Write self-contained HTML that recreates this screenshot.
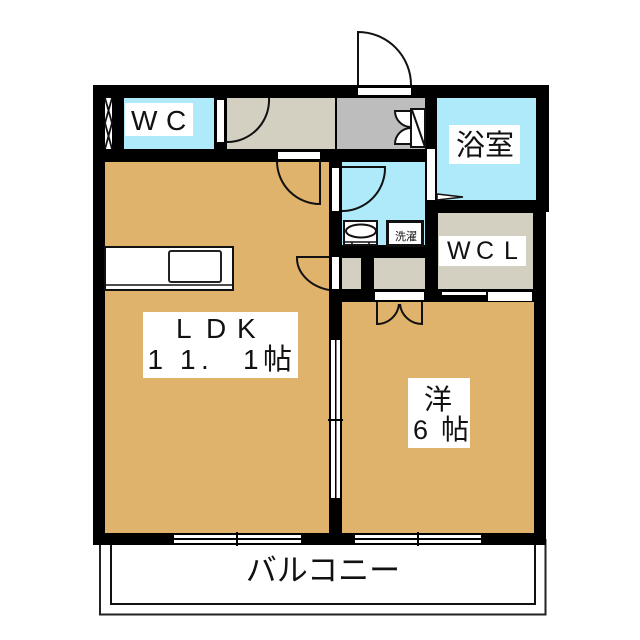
<!DOCTYPE html>
<html><head><meta charset="utf-8"><style>
html,body{margin:0;padding:0;background:#fff}
svg{display:block}
text{font-family:"Liberation Sans","Noto Sans CJK JP",sans-serif;fill:#111}
</style></head><body>
<svg width="640" height="640" viewBox="0 0 640 640" xmlns="http://www.w3.org/2000/svg">
<!-- balcony -->
<rect x="100" y="540" width="445.500" height="74.500" fill="#fff" stroke="#222" stroke-width="2"/>
<path d="M111 540V604H535V540" fill="none" stroke="#111" stroke-width="2"/>
<!-- walls -->
<rect x="93" y="85" width="453" height="460" fill="#000"/>
<rect x="530" y="85" width="19" height="127" fill="#000"/>
<!-- rooms -->
<rect x="105" y="162" width="224" height="371" fill="#e0b36c"/>
<rect x="342" y="302" width="192" height="231" fill="#e0b36c"/>
<rect x="124" y="98" width="90" height="51" fill="#aeeafa"/>
<rect x="227" y="98" width="108" height="51" fill="#d3d0c2"/>
<rect x="337" y="98" width="88" height="51" fill="#bdbdbd"/>
<rect x="437" y="98" width="99" height="102" fill="#aeeafa"/>
<rect x="342" y="162" width="83" height="83" fill="#aeeafa"/>
<rect x="438" y="213" width="95" height="76" fill="#d3d0c2"/>
<rect x="342" y="258" width="19" height="31" fill="#d3d0c2"/>
<rect x="374" y="258" width="51" height="31" fill="#d3d0c2"/>
<!-- wall openings -->
<rect x="105" y="98" width="7" height="51" fill="#fff"/>
<path d="M105 98L112 123L105 149M112 98L105 123L112 149" fill="none" stroke="#111" stroke-width="1.800"/>
<rect x="217" y="100" width="7" height="42" fill="#fff"/>
<rect x="278" y="152" width="42" height="7" fill="#fff"/>
<rect x="358" y="88" width="53" height="7" fill="#fff"/>
<rect x="427" y="149" width="8" height="51" fill="#fff"/>
<rect x="332" y="168" width="7" height="43" fill="#fff"/>
<rect x="332" y="257" width="7" height="32" fill="#fff"/>
<rect x="375" y="292" width="49" height="8" fill="#fff"/>
<rect x="442" y="292" width="44" height="3" fill="#fff"/>
<rect x="488" y="292" width="44" height="9" fill="#fff"/>
<!-- sliding partition -->
<rect x="331" y="340" width="4" height="158" fill="#fff"/>
<rect x="336.500" y="340" width="3.500" height="158" fill="#fff"/>
<path d="M328 420H343" stroke="#000" stroke-width="2"/>
<!-- bottom windows -->
<g fill="#fff">
<rect x="174" y="535" width="127" height="3"/><rect x="174" y="540" width="127" height="3"/>
<rect x="355" y="535" width="126" height="3"/><rect x="355" y="540" width="126" height="3"/>
</g>
<path d="M237 532V546M418 532V546" stroke="#000" stroke-width="2"/>
<!-- doors -->
<g fill="none" stroke="#111" stroke-width="2">
<path d="M358 85V32A53 53 0 0 1 411 85"/>
<path d="M227 142A42 42 0 0 0 269 98"/>
<path d="M277 162A43 43 0 0 0 320 204V160"/>
<path d="M342 211A43 43 0 0 0 385 167H342"/>
<path d="M329 290A42 33 0 0 1 297 257H329"/>
<path d="M377 302V324A22 22 0 0 0 399 304"/>
<path d="M422 302V324A22 22 0 0 1 400 304"/>
</g>
<!-- shoe/door near entrance -->
<path d="M411 111H395A16 16 0 0 0 411 127Z" fill="#fff" stroke="#111" stroke-width="2"/>
<path d="M411 144H395A16 16 0 0 1 411 128Z" fill="#fff" stroke="#111" stroke-width="2"/>
<path d="M411 109H425V147H411Z" fill="#fff" stroke="#111" stroke-width="2"/>
<path d="M412 110L425 147" stroke="#111" stroke-width="2"/>
<!-- bath door tip -->
<path d="M437 194L463 197L437 200Z" fill="#fff" stroke="#111" stroke-width="1.500"/>
<!-- kitchen -->
<rect x="105" y="247" width="128" height="43" fill="#fff" stroke="#111" stroke-width="2"/>
<path d="M105 285H233" stroke="#111" stroke-width="1.500"/>
<rect x="169" y="251" width="52" height="31" rx="2" fill="#fff" stroke="#222" stroke-width="2"/>
<!-- washbasin -->
<rect x="344" y="221" width="33" height="24" fill="#fff" stroke="#111" stroke-width="2"/>
<ellipse cx="361" cy="231" rx="15" ry="6.500" fill="#fff" stroke="#111" stroke-width="2"/>
<path d="M344 242H377M352 242V245M369 242V245" stroke="#111" stroke-width="1.500"/>
<!-- washer -->
<rect x="387.500" y="221.500" width="35" height="24" fill="#fff" stroke="#111" stroke-width="3"/>
<text x="406" y="240" font-size="11" text-anchor="middle">洗濯</text>
<!-- labels -->
<rect x="125" y="103" width="68" height="33" fill="#fff"/>
<text y="130" font-size="28"><tspan x="131">W</tspan><tspan x="166">C</tspan></text>
<rect x="449" y="125" width="71" height="39" fill="#fff"/>
<text x="485" y="155" font-size="29" text-anchor="middle">浴室</text>
<rect x="439" y="236" width="87" height="30" fill="#fff"/>
<text y="259" font-size="25"><tspan x="447">W</tspan><tspan x="476">C</tspan><tspan x="504">L</tspan></text>
<rect x="143" y="312" width="155" height="66" fill="#fff"/>
<text y="338" font-size="28"><tspan x="176">L</tspan><tspan x="206">D</tspan><tspan x="237">K</tspan></text>
<text y="369" font-size="28"><tspan x="147.500">1</tspan><tspan x="180">1</tspan><tspan x="201">.</tspan><tspan x="243">1</tspan></text>
<text x="263" y="369" font-size="29">帖</text>
<rect x="408" y="378" width="62" height="70" fill="#fff"/>
<text x="438" y="409" font-size="28" text-anchor="middle">洋</text>
<text x="413" y="439" font-size="27">6</text>
<text x="441" y="439" font-size="28">帖</text>
<text x="323" y="581" font-size="31" text-anchor="middle">バルコニー</text>
</svg>
</body></html>
